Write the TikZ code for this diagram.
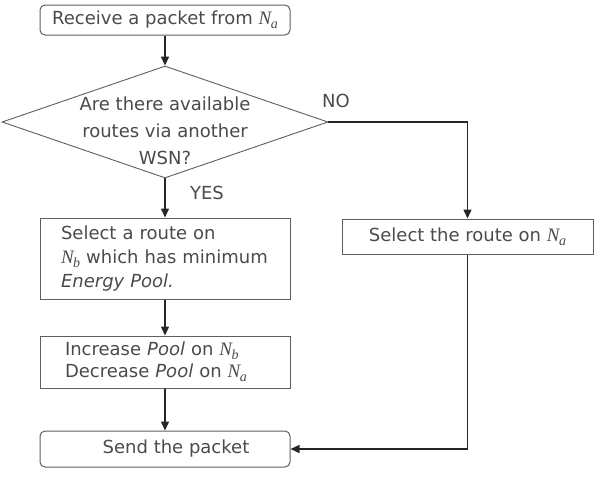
\documentclass[tikz,border=0pt]{standalone}
\usepackage{fontspec}
\setmainfont{DejaVu Sans}
\newfontfamily\varfont{Liberation Serif}
\usetikzlibrary{shapes.geometric,arrows.meta}

\definecolor{ink}{HTML}{4A4A4A}
\definecolor{frame}{HTML}{5E5E5E}

% network name N with subscript
\newcommand{\netN}[1]{{\varfont\itshape\fontsize{19}{24}\selectfont N\kern-0.5pt\raisebox{-4pt}{\fontsize{14}{16}\selectfont #1}}}

\begin{document}
\begin{tikzpicture}[
    x=1pt,
    y=-1pt,
    every node/.style={font=\fontsize{18}{24}\selectfont, text=ink},
    box/.style={draw=frame, line width=1pt, inner sep=0pt, minimum width=250pt},
    endbox/.style={box, rounded corners=5pt},
    decide/.style={diamond, draw=frame, line width=0.9pt, inner sep=0pt, minimum width=326pt, minimum height=112pt},
    flow/.style={-{Triangle[length=9pt,width=8pt]}, line width=1.5pt, draw=black!85}
]
\useasboundingbox (0,0) rectangle (595,480);

\node[endbox, minimum height=30pt] (recv) at (165,20) {Receive a packet from \netN{a}};
\node[decide] (ask) at (165,122) {};
\node[align=center, font=\fontsize{18}{27}\selectfont] (asktext) at (165,131)
  {Are there available\\routes via another\\WSN?};

\node[box, minimum height=81pt, text width=208pt, align=left] (pick) at (165,258.5)
  {Select a route on\\\netN{b} which has minimum\\\textit{Energy Pool.}};
\node[box, minimum height=52pt, text width=200pt, align=left, font=\fontsize{18}{22}\selectfont] (pool) at (165,362)
  {Increase \textit{Pool} on \netN{b}\\Decrease \textit{Pool} on \netN{a}};
\node[endbox, minimum height=36pt] (send) at (165,449)
  {\hspace*{22pt}Send the packet};

\node[box, minimum height=35pt, minimum width=251pt] (alt) at (467.5,236.5)
  {Select the route on \netN{a}};

\node (yes) at (207,193) {YES};
\node (no) at (336,101) {NO};

\foreach \a/\b in {recv/ask,ask/pick,pick/pool,pool/send}
  \draw[flow] (\a) -- (\b);
\draw[flow] (ask.east) -| (alt.north);
\draw[flow] (alt.south) |- (send.east);
\end{tikzpicture}
\end{document}
